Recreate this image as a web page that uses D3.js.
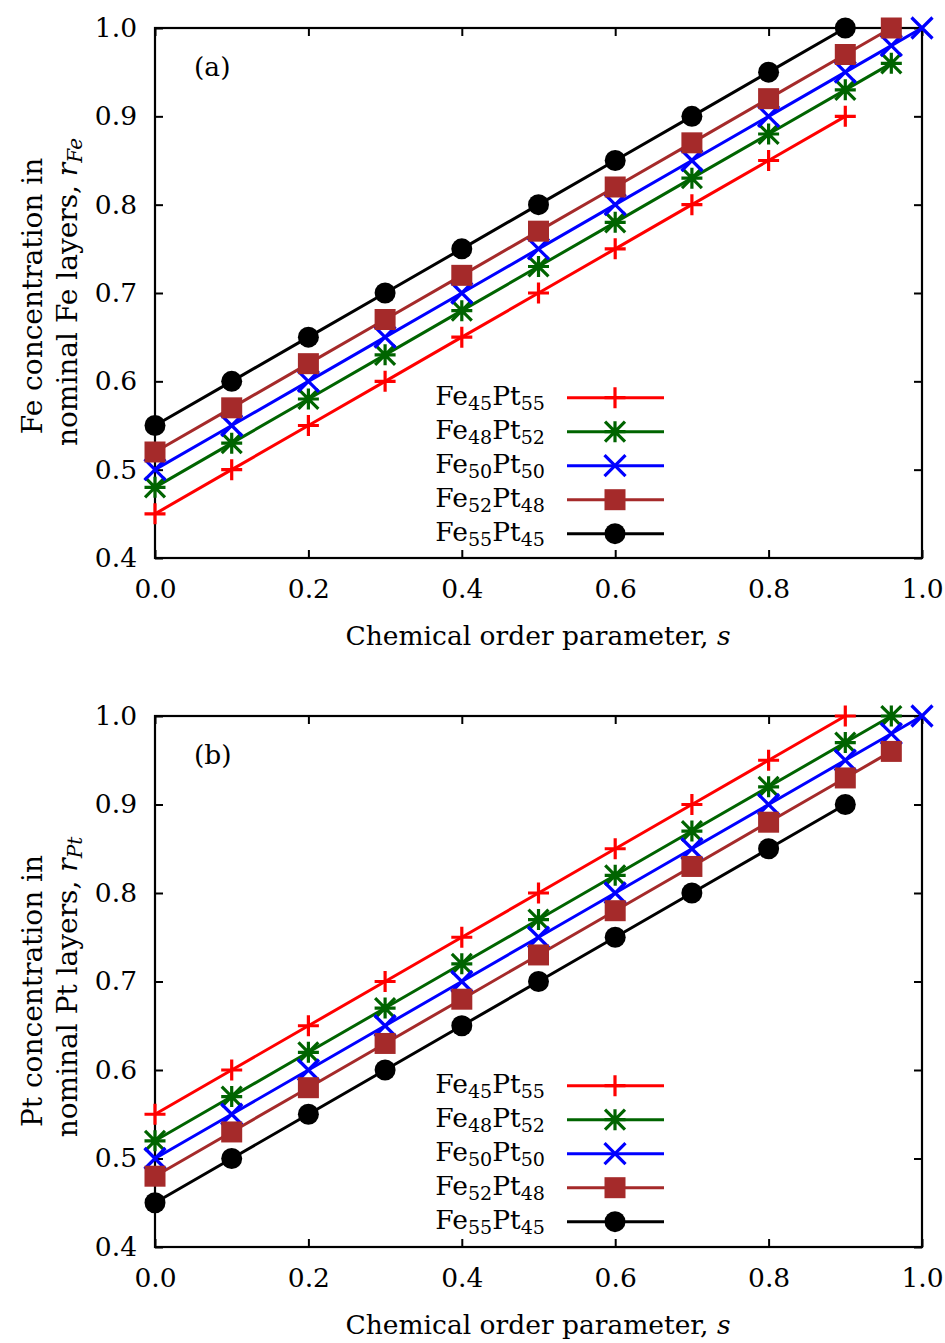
<!DOCTYPE html>
<html><head><meta charset="utf-8">
<script src="https://cdn.jsdelivr.net/npm/d3@7"></script>
<style>
html,body{margin:0;padding:0;background:#fff;}
svg text{font-family:"DejaVu Serif",serif;fill:#000;}
</style></head>
<body>
<svg id="chart" width="945" height="1343"></svg>
<script>
// ---------- data ----------
const seriesNames = ["Fe45Pt55","Fe48Pt52","Fe50Pt50","Fe52Pt48","Fe55Pt45"];
const legendParts = [["45","55"],["48","52"],["50","50"],["52","48"],["55","45"]];
const sFe45 = [0,0.1,0.2,0.3,0.4,0.5,0.6,0.7,0.8,0.9];
const sFe48 = [0,0.1,0.2,0.3,0.4,0.5,0.6,0.7,0.8,0.9,0.96];
const sFe50 = [0,0.1,0.2,0.3,0.4,0.5,0.6,0.7,0.8,0.9,0.96,1.0];
const sFe52 = [0,0.1,0.2,0.3,0.4,0.5,0.6,0.7,0.8,0.9,0.96];
const sFe55 = [0,0.1,0.2,0.3,0.4,0.5,0.6,0.7,0.8,0.9];
// panel (a): r_Fe
const rFe45 = [0.45,0.50,0.55,0.60,0.65,0.70,0.75,0.80,0.85,0.90];
const rFe48 = [0.48,0.53,0.58,0.63,0.68,0.73,0.78,0.83,0.88,0.93,0.96];
const rFe50 = [0.50,0.55,0.60,0.65,0.70,0.75,0.80,0.85,0.90,0.95,0.98,1.00];
const rFe52 = [0.52,0.57,0.62,0.67,0.72,0.77,0.82,0.87,0.92,0.97,1.00];
const rFe55 = [0.55,0.60,0.65,0.70,0.75,0.80,0.85,0.90,0.95,1.00];
// panel (b): r_Pt
const rPt45 = [0.55,0.60,0.65,0.70,0.75,0.80,0.85,0.90,0.95,1.00];
const rPt48 = [0.52,0.57,0.62,0.67,0.72,0.77,0.82,0.87,0.92,0.97,1.00];
const rPt50 = [0.50,0.55,0.60,0.65,0.70,0.75,0.80,0.85,0.90,0.95,0.98,1.00];
const rPt52 = [0.48,0.53,0.58,0.63,0.68,0.73,0.78,0.83,0.88,0.93,0.96];
const rPt55 = [0.45,0.50,0.55,0.60,0.65,0.70,0.75,0.80,0.85,0.90];
const xTicks = [0,0.2,0.4,0.6,0.8,1.0];
const yTicks = [0.4,0.5,0.6,0.7,0.8,0.9,1.0];
const colors = ["#ff0000","#006400","#0000ff","#a52a2a","#000000"];
const markers = ["plus","star","cross","square","circle"];

const sArrays = [sFe45,sFe48,sFe50,sFe52,sFe55];
const panels = [
  {label:"(a)", top:28, bottom:558, cy:294, ys:[rFe45,rFe48,rFe50,rFe52,rFe55], line1:"Fe concentration in", line2:"nominal Fe layers, ", sub:"Fe"},
  {label:"(b)", top:716, bottom:1247, cy:989, ys:[rPt45,rPt48,rPt50,rPt52,rPt55], line1:"Pt concentration in", line2:"nominal Pt layers, ", sub:"Pt"}
];

const svg = d3.select("#chart");
const L = 155, R = 922;
const FS = 26.5;
const FSY = 28;

function drawMarker(g, type, x, y, color){
  const h = 10.5;
  if(type==="plus"){
    g.append("path").attr("d",`M${x-h},${y}H${x+h}M${x},${y-h}V${y+h}`).attr("stroke",color).attr("stroke-width",3.2).attr("fill","none");
  } else if(type==="cross"){
    g.append("path").attr("d",`M${x-h},${y-h}L${x+h},${y+h}M${x-h},${y+h}L${x+h},${y-h}`).attr("stroke",color).attr("stroke-width",3.2).attr("fill","none");
  } else if(type==="star"){
    const d = h*0.95;
    g.append("path").attr("d",`M${x-d},${y-d}L${x+d},${y+d}M${x-d},${y+d}L${x+d},${y-d}M${x},${y-h}V${y+h}M${x-h},${y}H${x+h}`).attr("stroke",color).attr("stroke-width",3.2).attr("fill","none");
  } else if(type==="square"){
    g.append("rect").attr("x",x-h).attr("y",y-h).attr("width",2*h).attr("height",2*h).attr("fill",color);
  } else if(type==="circle"){
    g.append("circle").attr("cx",x).attr("cy",y).attr("r",h).attr("fill",color);
  }
}

panels.forEach(p=>{
  const x = d3.scaleLinear().domain([0,1]).range([L,R]);
  const y = d3.scaleLinear().domain([0.4,1.0]).range([p.bottom,p.top]);
  const g = svg.append("g");

  // frame
  g.append("rect").attr("x",L).attr("y",p.top).attr("width",R-L).attr("height",p.bottom-p.top)
    .attr("fill","none").attr("stroke","#000").attr("stroke-width",2.2);

  // axes (ticks inward, mirrored)
  const tk = 8;
  const axB = d3.axisBottom(x).tickValues(xTicks).tickSizeInner(-tk).tickSizeOuter(0).tickFormat(d3.format(".1f")).tickPadding(tk+13);
  const axT = d3.axisTop(x).tickValues(xTicks).tickSizeInner(-tk).tickSizeOuter(0).tickFormat("");
  const axL = d3.axisLeft(y).tickValues(yTicks).tickSizeInner(-tk).tickSizeOuter(0).tickFormat(d3.format(".1f")).tickPadding(tk+10);
  const axR = d3.axisRight(y).tickValues(yTicks).tickSizeInner(-tk).tickSizeOuter(0).tickFormat("");
  [[axB,`translate(0,${p.bottom})`],[axT,`translate(0,${p.top})`],[axL,`translate(${L},0)`],[axR,`translate(${R},0)`]].forEach(([ax,tr])=>{
    const a = g.append("g").attr("transform",tr).call(ax);
    a.select(".domain").remove();
    a.selectAll(".tick line").attr("stroke","#000").attr("stroke-width",2);
    a.selectAll(".tick text").attr("font-size",FS).attr("font-family","DejaVu Serif");
  });

  // series
  const line = d3.line().x(d=>x(d[0])).y(d=>y(d[1]));
  seriesNames.forEach((name,i)=>{
    const pts = sArrays[i].map((s,j)=>[s,p.ys[i][j]]);
    g.append("path").datum(pts).attr("d",line).attr("fill","none").attr("stroke",colors[i]).attr("stroke-width",3);
    pts.forEach(d=>drawMarker(g,markers[i],x(d[0]),y(d[1]),colors[i]));
  });

  // legend
  const ly0 = p.top + 369.7, dy = 34;
  seriesNames.forEach((name,i)=>{
    const yy = ly0 + i*dy;
    g.append("line").attr("x1",567).attr("x2",664).attr("y1",yy).attr("y2",yy).attr("stroke",colors[i]).attr("stroke-width",3);
    drawMarker(g,markers[i],615,yy,colors[i]);
    const t = g.append("text").attr("x",545).attr("y",yy+7.5).attr("text-anchor","end").attr("font-size",FS);
    t.append("tspan").text("Fe");
    t.append("tspan").attr("font-size",FS*0.72).attr("dy",5).text(legendParts[i][0]);
    t.append("tspan").attr("dy",-5).text("Pt");
    t.append("tspan").attr("font-size",FS*0.72).attr("dy",5).text(legendParts[i][1]);
  });

  // panel label
  g.append("text").attr("x",194).attr("y",p.top+48).attr("font-size",FS).text(p.label);

  // x title
  const xt = g.append("text").attr("x",538).attr("y",p.bottom+87).attr("text-anchor","middle").attr("font-size",FS);
  xt.append("tspan").text("Chemical order parameter, ");
  xt.append("tspan").attr("font-style","italic").text("s");

  // y title
  g.append("text").attr("transform",`translate(42,${p.cy+2}) rotate(-90)`).attr("text-anchor","middle").attr("font-size",FSY).text(p.line1);
  const yt = g.append("text").attr("transform",`translate(77,${p.cy-2}) rotate(-90)`).attr("text-anchor","middle").attr("font-size",FSY);
  yt.append("tspan").text(p.line2);
  yt.append("tspan").attr("font-style","italic").text("r");
  yt.append("tspan").attr("font-style","italic").attr("font-size",FSY*0.72).attr("dy",5).text(p.sub);
});
</script>
</body></html>
